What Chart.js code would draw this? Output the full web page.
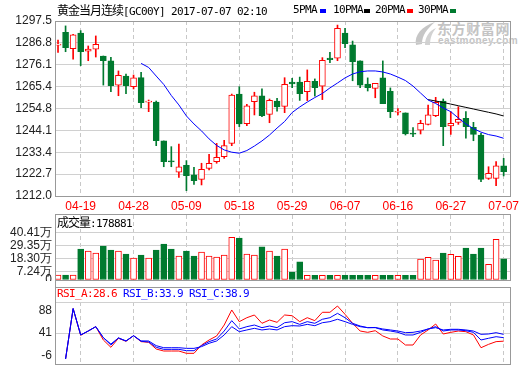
<!DOCTYPE html>
<html><head><meta charset="utf-8">
<script src="https://cdn.jsdelivr.net/npm/chart.js@4"></script>
<style>
body{margin:0;background:#fff;width:520px;height:365px;overflow:hidden;position:relative;}
canvas{position:absolute;left:0;z-index:2;}
.frame{position:absolute;border:1px solid #999;box-sizing:border-box;pointer-events:none;z-index:5;}
.txt{position:absolute;white-space:pre;font-family:'DejaVu Sans Mono','Noto Sans CJK SC',monospace;font-size:11px;letter-spacing:-0.62px;line-height:14px;z-index:6;}
.cjk{font-family:'Noto Sans CJK SC';font-size:12px;letter-spacing:-1px;}
.sq{position:absolute;width:6px;height:4px;z-index:6;}
.wm{position:absolute;color:#c4c4c4;font-weight:bold;white-space:pre;z-index:1;}
</style></head>
<body>
<svg style="position:absolute;left:413px;top:21px;z-index:1;" width="24" height="25" viewBox="0 0 24 25">
  <path d="M3 24 C 1 14, 9 5, 22 1 C 14 8, 9 14, 9 23 Z" fill="#c6c6c6"/>
  <path d="M12 24 C 12 16, 16 10, 23 7 C 19 12, 17 17, 17 24 Z" fill="#d2d2d2"/>
</svg>
<div class="wm" style="left:437px;top:20px;font-size:14px;letter-spacing:0.6px;font-family:'Noto Sans CJK SC';line-height:17px;">东方财富网</div>
<div class="wm" style="left:438px;top:36px;font-size:10px;letter-spacing:0.4px;line-height:10px;font-family:'Liberation Sans';">eastmoney.com</div>

<div class="txt" style="left:57px;top:3px;color:#000;"><span class="cjk">黄金当月连续</span>[GC00Y] 2017-07-07 02:10</div>
<div class="txt" style="left:293px;top:3px;color:#000;">5PMA</div>
<div class="sq" style="left:320px;top:9px;background:#0000ff;"></div>
<div class="txt" style="left:333px;top:3px;color:#000;">10PMA</div>
<div class="sq" style="left:364px;top:9px;background:#000;"></div>
<div class="txt" style="left:375px;top:3px;color:#000;">20PMA</div>
<div class="sq" style="left:407px;top:9px;background:#ff0000;"></div>
<div class="txt" style="left:418px;top:3px;color:#000;">30PMA</div>
<div class="sq" style="left:450px;top:9px;background:#007a2f;"></div>

<div class="txt" style="left:57px;top:215px;color:#000;"><span class="cjk">成交量</span>:178881</div>
<div class="txt" style="left:57px;top:287px;color:#ff0000;">RSI_A:28.6</div>
<div class="txt" style="left:123px;top:287px;color:#0000ff;">RSI_B:33.9</div>
<div class="txt" style="left:189px;top:287px;color:#0000ff;">RSI_C:38.9</div>

<canvas id="cMain" width="520" height="214" style="top:0px"></canvas>
<canvas id="cVol" width="520" height="67" style="top:214px"></canvas>
<canvas id="cRsi" width="520" height="78" style="top:287px"></canvas>

<div class="frame" style="left:55px;top:21px;width:456px;height:176px;"></div>
<div class="frame" style="left:55px;top:214px;width:456px;height:67px;"></div>
<div class="frame" style="left:55px;top:287px;width:456px;height:78px;"></div>
<div style="position:absolute;left:55px;top:214px;width:1px;height:151px;background:#999;z-index:5;"></div>

<script>
// ---- data ----
const tickIndex = [3,10,17,24,31,38,45,52,59];
const tickLabels = ['04-19','04-28','05-09','05-18','05-29','06-07','06-16','06-27','07-07'];
const priceTicks = [1212.0,1222.7,1233.4,1244.1,1254.8,1265.4,1276.1,1286.8,1297.5];
const volTicks = [0,7.24,18.30,29.35,40.41];
const rsiTicks = [-6,41,88];

const open = [1285.7,1292.0,1284.0,1291.6,1282.7,1283.7,1280.4,1278.0,1266.1,1270.6,1265.4,1269.8,1257.9,1257.9,1238.9,1228.9,1223.6,1227.0,1222.3,1220.1,1225.5,1228.8,1231.2,1237.7,1261.8,1247.3,1258.1,1260.9,1251.9,1258.4,1255.8,1267.7,1267.7,1263.0,1268.0,1265.6,1279.4,1279.3,1291.6,1285.8,1278.0,1266.7,1264.6,1269.7,1263.1,1252.9,1252.6,1242.4,1244.2,1247.0,1251.3,1258.4,1246.2,1248.0,1249.9,1245.5,1241.8,1220.6,1220.6,1226.7];
const close = [1285.9,1284.5,1290.7,1282.5,1283.8,1286.1,1278.1,1265.9,1271.0,1265.9,1269.7,1257.6,1258.0,1239.0,1228.8,1228.7,1226.3,1221.9,1219.5,1225.0,1228.0,1230.9,1236.6,1261.3,1247.2,1256.1,1260.9,1251.3,1258.7,1255.5,1266.6,1266.7,1262.0,1268.0,1264.9,1278.3,1278.6,1293.9,1286.4,1277.6,1266.2,1264.9,1267.0,1257.1,1253.2,1253.0,1242.3,1242.2,1247.5,1251.6,1257.8,1245.9,1247.5,1249.5,1245.9,1242.1,1220.1,1223.1,1226.7,1223.9];
const high = [1288.2,1295.1,1291.0,1292.8,1285.3,1290.2,1280.4,1279.8,1273.1,1271.6,1271.1,1272.4,1258.9,1258.4,1238.9,1236.1,1237.4,1229.3,1226.0,1228.0,1232.4,1237.7,1239.2,1261.8,1265.4,1256.8,1262.7,1264.3,1259.4,1259.7,1269.8,1269.5,1270.1,1273.6,1269.2,1279.6,1282.2,1295.5,1293.9,1287.7,1278.0,1269.7,1267.0,1278.0,1264.8,1254.7,1252.6,1245.4,1249.0,1256.4,1260.2,1259.4,1253.2,1255.6,1253.2,1248.0,1242.6,1226.3,1228.8,1230.4];
const low = [1282.2,1282.5,1278.8,1275.7,1278.1,1279.9,1266.2,1263.0,1261.0,1262.0,1264.3,1255.2,1253.2,1236.6,1226.3,1226.3,1221.1,1214.6,1217.7,1217.4,1224.7,1228.0,1230.4,1236.6,1245.9,1246.4,1251.6,1250.8,1247.8,1253.5,1252.7,1264.9,1258.7,1258.6,1260.8,1259.1,1277.1,1278.1,1284.5,1268.3,1264.9,1263.3,1260.0,1257.1,1250.3,1251.6,1241.8,1241.0,1242.3,1246.7,1250.8,1236.6,1242.1,1247.0,1240.2,1239.0,1219.0,1220.1,1217.0,1221.8];

// indices 0-10 have no value
const pma5 = [null,null,null,null,null,null,null,null,null,null,null,
 1276.8,1274.8,1270.6,1266.5,1261.1,1256.5,1251.1,1247.2,1243.8,1239.9,
 1236.7,1234.5,1233.4,1232.9,1234.2,1236.4,1238.9,1241.8,1245.2,1248.4,
 1252.8,1255.5,1257.9,1260.1,1262.1,1264.8,1267.2,1269.7,1271.6,1272.7,
 1273.1,1273.1,1272.6,1271.6,1270.1,1268.4,1265.7,1262.3,1258.9,1257.2,
 1255.0,1253.2,1250.1,1247.2,1244.9,1243.2,1242.0,1241.3,1240.2];
// indices 0-48 have no value
const pma10 = [null,null,null,null,null,null,null,null,null,null,
 null,null,null,null,null,null,null,null,null,null,
 null,null,null,null,null,null,null,null,null,null,
 null,null,null,null,null,null,null,null,null,null,
 null,null,null,null,null,null,null,null,null,
 1259.1,1258.4,1257.7,1256.9,1256.1,1255.3,1254.5,1253.7,1252.9,1252.1,1251.1];

const vol = [4.2,4.2,4.2,26.3,24.6,22.9,28.8,25.4,24.6,22.0,18.6,21.2,18.6,25.4,30.5,26.3,20.3,24.6,20.3,23.7,20.3,19.5,21.2,36.2,35.6,22.0,21.2,28.0,24.6,20.3,26.3,6.8,15.3,4.0,4.0,4.0,4.0,4.0,4.0,4.0,4.0,4.0,4.0,4.0,4.0,4.0,4.0,4.0,17.8,19.2,16.9,22.9,21.8,20.1,27.1,22.0,27.1,13.3,34.5,17.89];

const rsiA = [null,1.6,78,37.5,44.0,50.6,30.4,19.3,33.0,28.4,36.9,27.9,26.9,16.7,13.7,13.7,13.7,10.2,10.2,22.8,30.4,36.5,53.1,75.9,58.2,64.2,68.3,55.7,60.7,57.2,68.3,67.2,58.2,64.2,59.7,72.4,72.4,81.9,69.3,55.7,44.0,42.0,44.5,36.5,31.9,31.9,22.8,22.8,38.0,45.6,54.6,39.5,42.0,44.0,43.0,38.0,18.7,23.8,27.9,28.6];
const rsiB = [null,1.6,78,38.0,44.0,50.6,33.9,22.8,33.5,28.9,36.9,28.4,27.4,19.3,16.2,16.2,16.2,14.2,14.2,21.8,27.9,31.9,44.0,59.7,47.1,50.6,53.1,49.1,51.6,49.1,56.6,58.2,54.1,58.2,55.7,61.8,64.2,70.8,64.2,55.7,51.6,49.1,49.1,45.6,44.0,42.0,38.0,38.0,42.0,47.1,50.6,44.0,45.6,45.6,44.5,42.0,30.4,33.0,35.4,33.9];
const rsiC = [null,1.6,78,38.0,44.0,50.6,33.9,24.3,33.5,28.9,36.9,29.0,28.9,21.8,18.7,18.7,18.7,17.7,17.7,20.3,25.4,28.9,38.0,50.6,43.0,45.6,48.1,45.6,47.1,45.6,50.6,52.1,51.6,54.1,52.1,56.6,58.2,61.8,58.2,54.1,50.6,49.1,49.4,47.1,45.6,44.0,41.5,42.0,44.0,47.1,49.1,45.6,46.6,46.6,45.6,44.0,39.0,39.5,41.5,38.9];

// ---- styles ----
const RED = '#ff0000', GREEN = '#007a2f', BLUE = '#0000ff';
const FONT = "'Liberation Sans', Arial, sans-serif";
const XMIN = -0.4, XMAX = 59.84;
const VOL_MAX = 55.07;
const idx = open.map((_, i) => i);
const up = idx.map(i => close[i] >= open[i]);

function xScale(showLabels) {
  return {
    type: 'linear', min: XMIN, max: XMAX, offset: false, bounds: 'data',
    afterBuildTicks: s => { s.ticks = tickIndex.map(v => ({ value: v })); },
    afterFit: s => { s.height = showLabels ? 18 : 0; s.paddingLeft = 0; s.paddingRight = 0; },
    grid: { color: '#c8c8c8', lineWidth: 1, drawTicks: false, offset: false },
    border: { display: false, dash: [4, 3] },
    ticks: {
      display: showLabels, autoSkip: false, maxRotation: 0, minRotation: 0, padding: 3,
      color: RED, font: { family: FONT, size: 12 },
      callback: v => tickLabels[tickIndex.indexOf(v)]
    }
  };
}
function yScale(min, max, ticks, cb, extraFont) {
  return {
    min, max, offset: false,
    afterBuildTicks: s => { s.ticks = ticks.map(v => ({ value: v })); },
    afterFit: s => { s.width = 55; s.paddingTop = 0; s.paddingBottom = 0; },
    grid: { color: '#d0d0d0', lineWidth: 1, drawTicks: false, offset: false },
    border: { display: false },
    ticks: { autoSkip: false, padding: 3, color: '#222', font: Object.assign({ family: FONT, size: 12 }, extraFont || {}), callback: cb }
  };
}
const common = {
  responsive: false, animation: false, events: [],
  plugins: { legend: { display: false }, tooltip: { enabled: false } }
};

// ---- main candle chart ----
new Chart(document.getElementById('cMain'), {
  type: 'bar',
  data: {
    datasets: [
      { type: 'line', label: '5PMA', order: 0, data: idx.map(i => ({ x: i, y: pma5[i] })),
        borderColor: BLUE, borderWidth: 1, pointRadius: 0, tension: 0, fill: false },
      { type: 'line', label: '10PMA', order: 0, data: idx.map(i => ({ x: i, y: pma10[i] })),
        borderColor: '#000', borderWidth: 1, pointRadius: 0, tension: 0, fill: false },
      { label: 'body', order: 1, grouped: false, categoryPercentage: 1, barPercentage: 1, maxBarThickness: 6, minBarLength: 1,
        data: idx.map(i => ({ x: i, y: [open[i], close[i]] })),
        backgroundColor: idx.map(i => up[i] ? '#ffffff' : GREEN),
        borderColor: idx.map(i => up[i] ? RED : GREEN),
        borderWidth: 1, borderSkipped: false },
      { label: 'wick', order: 2, grouped: false, categoryPercentage: 1, barPercentage: 1, maxBarThickness: 1,
        data: idx.map(i => ({ x: i, y: [low[i], high[i]] })),
        backgroundColor: idx.map(i => up[i] ? RED : GREEN), borderWidth: 0 }
    ]
  },
  options: Object.assign({}, common, {
    layout: { padding: { top: 21, right: 10, left: 0, bottom: 0 } },
    scales: {
      x: xScale(true),
      y: yScale(1212, 1297.5, priceTicks, v => v.toFixed(1))
    }
  })
});

// ---- volume chart ----
new Chart(document.getElementById('cVol'), {
  type: 'bar',
  data: {
    datasets: [{
      label: '成交量', grouped: false, categoryPercentage: 1, barPercentage: 1, maxBarThickness: 6,
      data: idx.map(i => ({ x: i, y: vol[i] })),
      backgroundColor: idx.map(i => up[i] ? '#ffffff' : GREEN),
      borderColor: idx.map(i => up[i] ? RED : GREEN),
      borderWidth: 1, borderSkipped: false
    }]
  },
  options: Object.assign({}, common, {
    layout: { padding: { top: 1, right: 10, left: 0, bottom: 1 } },
    scales: {
      x: xScale(false),
      y: yScale(0, VOL_MAX, volTicks, v => v === 0 ? '0' : v.toFixed(2) + '万')
    }
  })
});

// ---- RSI chart ----
new Chart(document.getElementById('cRsi'), {
  type: 'line',
  data: {
    datasets: [
      { label: 'RSI_C', data: idx.map(i => ({ x: i, y: rsiC[i] })), borderColor: BLUE, borderWidth: 1, pointRadius: 0, tension: 0 },
      { label: 'RSI_B', data: idx.map(i => ({ x: i, y: rsiB[i] })), borderColor: BLUE, borderWidth: 1, pointRadius: 0, tension: 0 },
      { label: 'RSI_A', data: idx.map(i => ({ x: i, y: rsiA[i] })), borderColor: RED, borderWidth: 1, pointRadius: 0, tension: 0 }
    ]
  },
  options: Object.assign({}, common, {
    layout: { padding: { top: 15, right: 10, left: 0, bottom: 1 } },
    scales: {
      x: xScale(false),
      y: yScale(-6, 88, rsiTicks, v => v === 88 ? ['', '88'] : (v === -6 ? ['-6', ''] : '41'), { lineHeight: 1.4 })
    }
  })
});
</script>
</body></html>
